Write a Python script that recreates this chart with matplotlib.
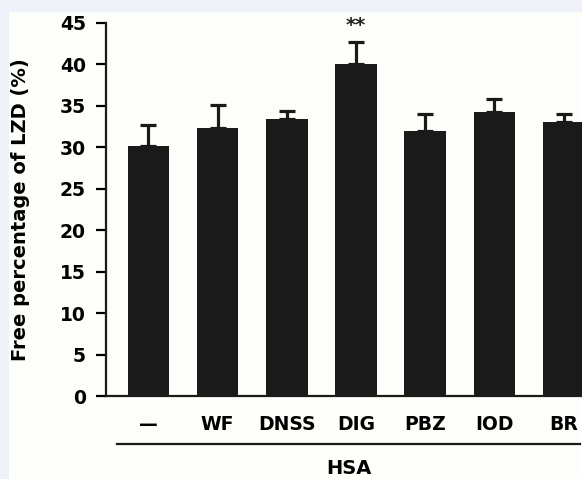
import matplotlib
matplotlib.use("Agg")
import matplotlib.pyplot as plt
from matplotlib.patches import Rectangle
from matplotlib.lines import Line2D

categories = ["\u2014", "WF", "DNSS", "DIG", "PBZ", "IOD", "BR"]
values = [30.2, 32.3, 33.4, 40.1, 32.0, 34.3, 33.0]
errors = [2.5, 2.85, 1.0, 2.55, 2.05, 1.5, 1.05]
sig_labels = ["", "", "", "**", "", "", ""]
yticks = [0, 5, 10, 15, 20, 25, 30, 35, 40, 45]
group_label = "HSA"
ylabel = "Free percentage of LZD (%)"

plt.rcParams['font.family'] = ['DejaVu Sans']
plt.rcParams['font.weight'] = 'bold'

W, H = 582, 479
fig = plt.figure(figsize=(W / 100, H / 100), dpi=100)
fig.patch.set_facecolor('#eef1f8')
fig.add_artist(Rectangle((9 / W, 0), 1 - 9 / W, 1 - 12 / H, transform=fig.transFigure,
                         facecolor='#fdfdf9', edgecolor='none', zorder=0))

ax = fig.add_axes([106 / W, 1 - 396 / H, 1 - 106 / W, (396 - 23) / H])
ax.set_facecolor('none')

x = list(range(len(categories)))
ax.bar(x, values, width=0.6, color='#1a1a1a', zorder=2)
ax.errorbar(x, values, yerr=[[0] * len(values), errors], fmt='none', ecolor='#1a1a1a',
            elinewidth=2.3, capsize=5.5, capthick=2.3, zorder=1)
for xi, v, e, s in zip(x, values, errors, sig_labels):
    if s:
        ax.text(xi, v + e + 2.0, s, ha='center', va='center', fontsize=14,
                fontweight='bold', color='#222222')

ax.set_ylim(0, 45)
ax.set_xlim(-0.614, 6.267)
ax.set_yticks(yticks)
ax.set_xticks(x)
ax.set_xticklabels(categories, fontsize=13.5, fontweight='bold')
ax.set_yticklabels([str(t) for t in yticks], fontsize=13.5, fontweight='bold')
ax.tick_params(axis='x', length=0, pad=14)
ax.tick_params(axis='y', length=7, width=1.6, pad=7.5, direction='out')
for sp in ['top', 'right']:
    ax.spines[sp].set_visible(False)
for sp in ['left', 'bottom']:
    ax.spines[sp].set_linewidth(1.6)
    ax.spines[sp].set_color('#1a1a1a')

fig.text(21 / W, 1 - 209.5 / H, ylabel, rotation=90, ha='center', va='center',
         fontsize=14, fontweight='bold')

fig.add_artist(Line2D([117 / W, 580 / W], [1 - 444 / H] * 2, transform=fig.transFigure,
                      color='#1a1a1a', linewidth=1.6))
fig.text(349 / W, 1 - 469 / H, group_label, ha='center', va='center',
         fontsize=14, fontweight='bold')

fig.savefig("out.png", dpi=100, facecolor=fig.get_facecolor())
